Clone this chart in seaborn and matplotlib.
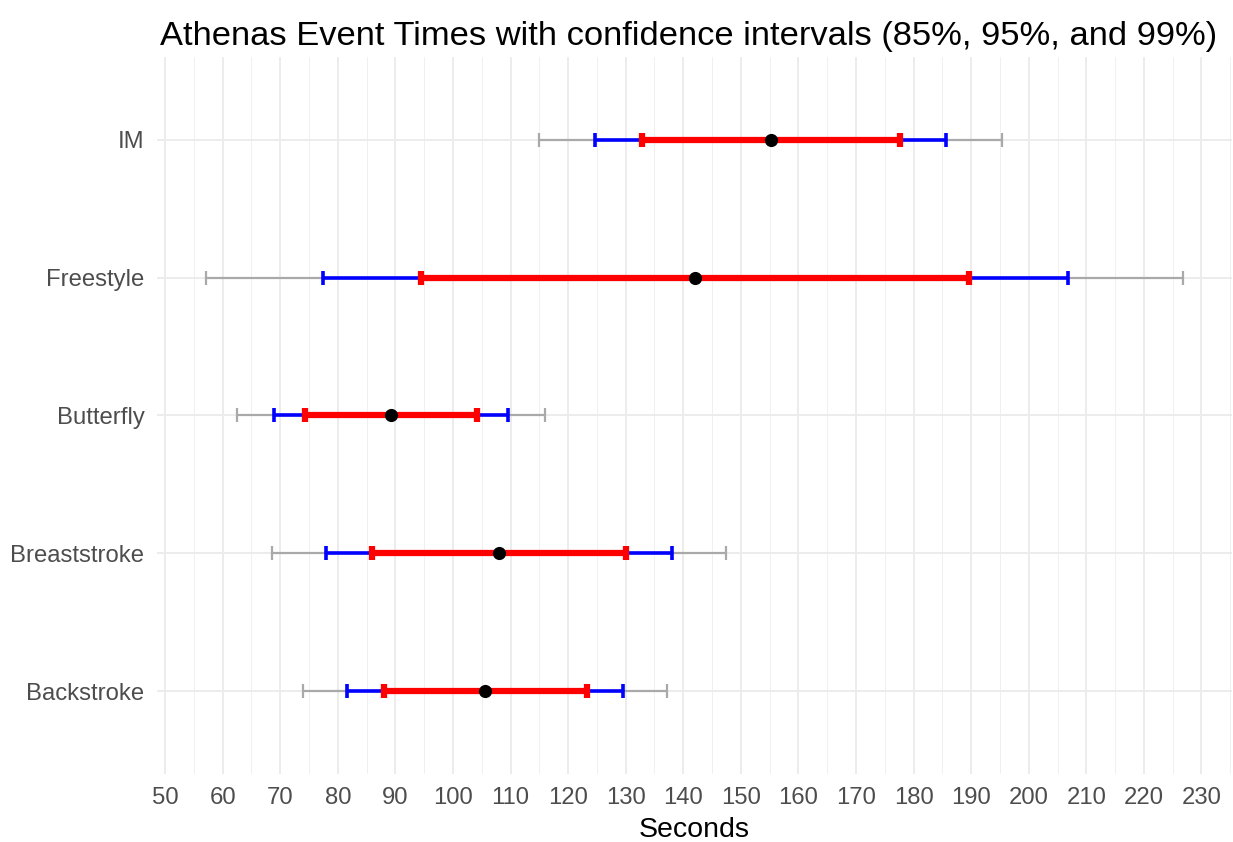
import numpy as np
import pandas as pd
import matplotlib
matplotlib.use("Agg")
import matplotlib.pyplot as plt
from matplotlib.ticker import MultipleLocator
import seaborn as sns

# Datos (segundos)
events = ['Backstroke', 'Breaststroke', 'Butterfly', 'Freestyle', 'IM']
mean_time = [105.6, 108.0, 89.3, 142.1, 155.2]
ci85_low = [88.0, 85.9, 74.3, 94.5, 132.8]
ci85_high = [123.2, 130.1, 104.2, 189.6, 177.7]
ci95_low = [81.6, 77.9, 69.0, 77.4, 124.7]
ci95_high = [129.6, 138.0, 109.5, 206.8, 185.7]
ci99_low = [74.0, 68.5, 62.5, 57.1, 115.0]
ci99_high = [137.1, 147.5, 115.9, 226.8, 195.3]

df = pd.DataFrame({'event': events, 'time': mean_time,
                   'lo85': ci85_low, 'hi85': ci85_high,
                   'lo95': ci95_low, 'hi95': ci95_high,
                   'lo99': ci99_low, 'hi99': ci99_high})

sns.set_theme(style="white")
plt.rcParams['font.family'] = ['Liberation Sans', 'DejaVu Sans']

fig = plt.figure(figsize=(12.33, 8.42), dpi=100)
ax = fig.add_axes([157 / 1233, 1 - 774 / 842, (1232 - 157) / 1233, (774 - 57) / 842])

ypos = np.arange(len(events))

# Intervalos: 99% gris, 95% azul, 85% rojo
capas = [('lo99', 'hi99', '#A9A9A9', 1.6),
         ('lo95', 'hi95', '#0000FF', 2.6),
         ('lo85', 'hi85', '#FF0000', 4.5)]
for lo, hi, col, lw in capas:
    centro = (df[lo] + df[hi]) / 2
    semi = (df[hi] - df[lo]) / 2
    ax.errorbar(centro, ypos, xerr=semi, fmt='none', ecolor=col,
                elinewidth=lw, capsize=5, capthick=lw, zorder=3)

sns.scatterplot(x=df['time'], y=ypos, ax=ax, color='black', s=90,
                edgecolor='black', linewidth=0, zorder=5)

ax.set_xlim(48.6, 235.3)
ax.set_ylim(-0.6, len(events) - 1 + 0.6)
ax.set_yticks(ypos)
ax.set_yticklabels(events)
ax.xaxis.set_major_locator(MultipleLocator(10))
ax.xaxis.set_minor_locator(MultipleLocator(5))

ax.grid(axis='x', which='major', color='#EBEBEB', linewidth=1.3, zorder=0)
ax.grid(axis='x', which='minor', color='#F0F0F0', linewidth=0.7, zorder=0)
ax.grid(axis='y', which='major', color='#EBEBEB', linewidth=1.3, zorder=0)
ax.set_axisbelow(True)
sns.despine(ax=ax, left=True, bottom=True)

ax.tick_params(axis='both', which='both', length=0, labelsize=17.2,
               labelcolor='#4D4D4D')
ax.tick_params(axis='x', pad=9)
ax.tick_params(axis='y', pad=9)

ax.set_xlabel('Seconds', fontsize=20.5, color='black', labelpad=6)
ax.set_ylabel('')
ax.set_title('Athenas Event Times with confidence intervals (85%, 95%, and 99%)',
             fontsize=24.8, color='black', loc='left', pad=9, x=0.003)

fig.savefig('out.png', dpi=100)
